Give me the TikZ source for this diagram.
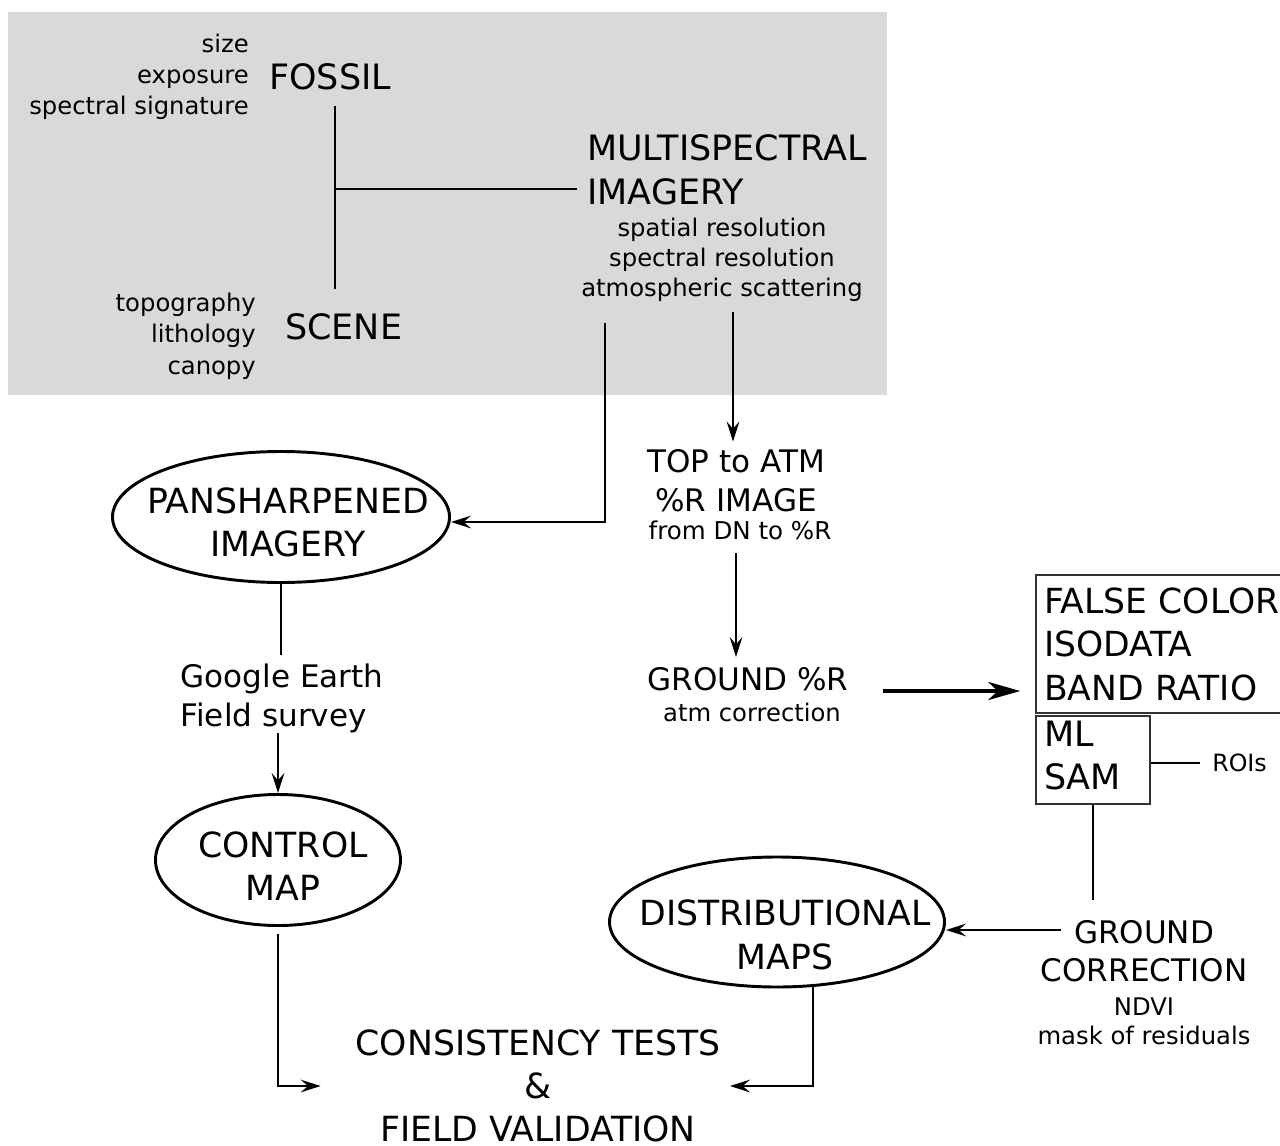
\documentclass[tikz,border=0pt]{standalone}
\usepackage{fontspec}
\setmainfont{DejaVu Sans}
\usetikzlibrary{arrows.meta,shapes.geometric}
\newdimen\pxu \pxu=0.75pt
\newcommand{\myfs}[2]{\fontsize{#1}{#2}\selectfont}
\begin{document}
\begin{tikzpicture}[x=0.75pt,y=-0.75pt,
  big/.style={inner sep=0, font=\myfs{26.2}{32.6}},
  mid/.style={inner sep=0, font=\myfs{23.3}{29.2}},
  sml/.style={inner sep=0, font=\myfs{18.2}{23.2}},
  ell/.style={draw, ellipse, line width=2.2pt, inner sep=0},
  ln/.style={line width=1.5pt},
  arr/.style={line width=1.5pt, -{Stealth[length=15pt,width=9.5pt,inset=5.5pt]}},
  thickarr/.style={line width=3pt, -{Stealth[length=24pt,width=13.5pt,inset=7pt]}},
  bx/.style={draw=black!80, line width=1.5pt, inner sep=0}]
\useasboundingbox (0,0) rectangle (1280,1145);
\fill[black!15] (8,12) rectangle (887,395);

% top grey panel
\node[sml, align=right, anchor=east] (fprops) at (249,77) {size\\exposure\\spectral signature};
\node[big, anchor=west] (fossil) at (269,77) {FOSSIL};
\node[big, anchor=west] (scene) at (285,327) {SCENE};
\node[sml, align=right, anchor=east, font=\myfs{18.2}{23.6}] (sprops) at (256,336) {topography\\lithology\\canopy};
\node[big, align=left, anchor=west, font=\myfs{26.2}{33}] (multi) at (587,170) {MULTISPECTRAL\\IMAGERY};
\node[sml, align=center, font=\myfs{18.2}{22.5}] (mprops) at (722,260) {spatial resolution\\spectral resolution\\atmospheric scattering};

\coordinate (ftop) at (335,106);
\coordinate (sbot) at (335,289);
\coordinate (fj) at (335,189);
\draw[line width=1.7pt] (ftop) -- (sbot);
\draw[line width=2.2pt, shorten >=7.5pt] (fj) -- (fj -| multi.west);

% left branch
\node[ell, minimum width=337\pxu, minimum height=131\pxu] (pan) at (281,517) {};
\node[big, align=center, font=\myfs{26}{32.3}] (pant) at (288,522) {PANSHARPENED\\IMAGERY};
\coordinate (ps) at (605,323);
\coordinate (pj) at (605,522);
\draw[arr] (ps) -- (pj) -- (pj -| pan.east);

\node[mid, align=left] (ge) at (282,698) {Google Earth\\Field survey};
\draw[ln, shorten >=6pt] (pan.south) -- (pan.south |- ge.north);

\node[ell, minimum width=245\pxu, minimum height=131\pxu] (ctrl) at (278,860) {};
\node[big, align=center, font=\myfs{26}{32.3}] (ctrlt) at (283,866) {CONTROL\\MAP};
\draw[arr] (ge.south -| ctrl.north) -- (ctrl.north);

% middle branch
\node[mid, align=center] (top) at (736,481) {TOP to ATM\\\%R IMAGE};
\node[sml, font=\myfs{18.4}{22}] (dn) at (740,530) {from DN to \%R};
\coordinate (ms) at (733,312);
\draw[arr, shorten >=6pt] (ms) -- (ms |- top.north);

\node[mid] (gr) at (748,679) {GROUND \%R};
\node[sml] (atm) at (752,712) {atm correction};
\draw[arr, shorten <=10pt, shorten >=7.5pt] (top.south |- dn.south) -- (top.south |- gr.north);

% classification boxes
\node[bx, anchor=north west, minimum width=320\pxu, minimum height=138\pxu, text width=304\pxu, align=left, font=\myfs{25.9}{32.6}] (box1) at (1035,574) {FALSE COLOR\\ISODATA\\BAND RATIO};
\node[bx, big, anchor=north west, minimum width=114\pxu, minimum height=88\pxu, text width=98\pxu, align=left] (box2) at (1035,715) {ML\\SAM\rule[-10\pxu]{0pt}{0pt}};
\coordinate (ta) at (883,691);
\draw[thickarr, shorten >=11pt] (ta) -- (ta -| box1.west);

\node[sml, anchor=west, font=\myfs{17.8}{22}] (roi) at (1212,763) {ROIs};
\draw[ln, shorten >=9pt] (roi.west -| box2.east) -- (roi.west);

% ground correction
\node[mid, align=center, font=\myfs{23.3}{28.5}] (gc) at (1144,951) {GROUND\\CORRECTION};
\node[sml, align=center, font=\myfs{18.2}{22}] (gcs) at (1144,1021) {NDVI\\mask of residuals};
\draw[ln, shorten >=15pt] (box2.south) -- (box2.south |- gc.north);

\node[ell, minimum width=335\pxu, minimum height=130\pxu] (dist) at (777,922) {};
\node[big, align=center, font=\myfs{26}{33}] (distt) at (785,935) {DISTRIBUTIONAL\\MAPS};
\coordinate (ga) at (1061,930);
\draw[arr] (ga) -- (ga -| dist.east);

% bottom
\node[mid, align=center, font=\myfs{26}{32.4}] (cons) at (538,1086) {CONSISTENCY TESTS\\\&\\FIELD VALIDATION};
\draw[arr] ([yshift=-5pt]ctrl.south) |- ([xshift=-26pt]cons.west);
\draw[arr] (dist.-61) |- ([xshift=7pt]cons.east);
\end{tikzpicture}
\end{document}
